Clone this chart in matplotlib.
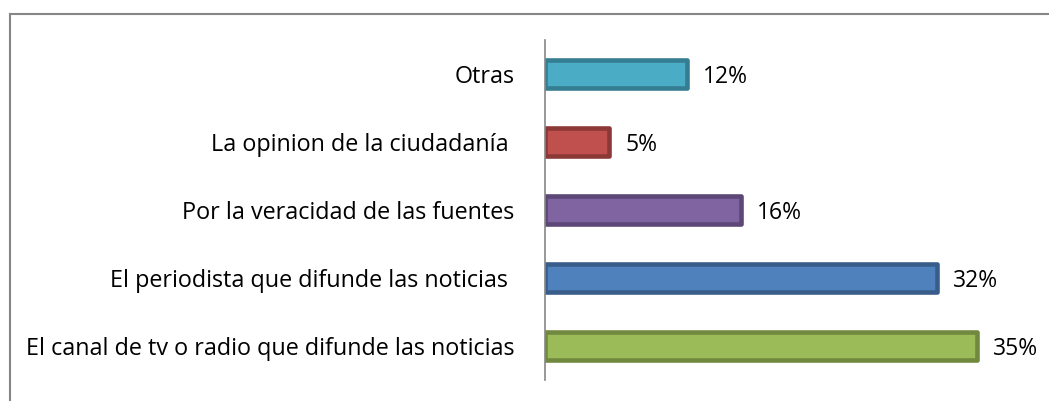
import matplotlib.pyplot as plt
from matplotlib.lines import Line2D

# Data (top to bottom as shown)
categories = ['Otras', 'La opinion de la ciudadanía ', 'Por la veracidad de las fuentes',
              'El periodista que difunde las noticias ', 'El canal de tv o radio que difunde las noticias']
values = [11.5, 5.2, 15.9, 31.8, 35.1]
value_labels = ['12%', '5%', '16%', '32%', '35%']
fills = ['#4BACC6', '#C0504D', '#8064A2', '#4F81BD', '#9BBB59']
edges = ['#357D91', '#8C3836', '#5C4776', '#385D8A', '#71893F']

plt.rcParams['font.family'] = ['Open Sans', 'DejaVu Sans']

W, H = 1049, 401
fig = plt.figure(figsize=(W / 100, H / 100), dpi=100)
ax = fig.add_axes([545 / W, 1 - 380 / H, (1040 - 545) / W, 340 / H])

ypos = list(range(len(categories)))[::-1]
bars = ax.barh(ypos, values, height=0.40, color=fills, edgecolor=edges, linewidth=3.3)
for b in bars:
    b.set_joinstyle('round')
for y, v, lab in zip(ypos, values, value_labels):
    ax.text(v + 1.3, y - 0.05, lab, va='center', ha='left', fontsize=16.5, color='black')

ax.set_xlim(0, 40.2)
ax.set_ylim(-0.5, len(categories) - 0.5)
ax.set_yticks(ypos)
ax.set_yticklabels(categories, fontsize=16.8)
ax.tick_params(axis='y', length=0, pad=22)
ax.set_xticks([])
for s in ['top', 'right', 'bottom']:
    ax.spines[s].set_visible(False)
ax.spines['left'].set_color('#868686')
ax.spines['left'].set_linewidth(1.2)
ax.spines['left'].set_zorder(3)

# chart frame (top and left edge visible)
fig.add_artist(Line2D([9.5 / W, 1048 / W], [1 - 13.5 / H, 1 - 13.5 / H], color='#868686', lw=1.5))
fig.add_artist(Line2D([9.5 / W, 9.5 / W], [0, 1 - 13.5 / H], color='#868686', lw=1.5))

fig.savefig('out.png', dpi=100)
